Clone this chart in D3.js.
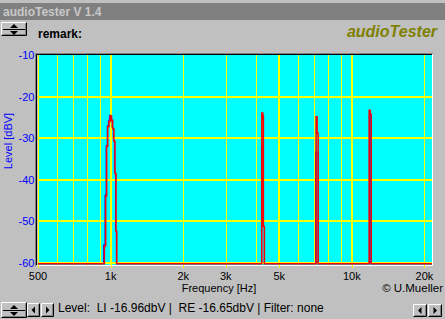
<!DOCTYPE html>
<html>
<head>
<meta charset="utf-8">
<script src="https://cdn.jsdelivr.net/npm/d3@7"></script>
<style>
  body { margin: 0; background: #c0c0c0; }
  svg { display: block; font-family: "Liberation Sans", Arial, sans-serif; }
</style>
</head>
<body>
<svg width="445" height="319"></svg>
<script>
// spectrum of the two channels, step data (freq in Hz, level in dBV)
var floorLevel = -60.3;

var rightFreq  = [500, 942, 954, 963, 973, 985, 995, 1009, 1020, 1032, 1043, 1053, 1061,
                  4235, 4276, 4300, 4340, 7112, 7180, 7250, 11800, 11917, 12030, 21500];
var rightLevel = [floorLevel, -56, -44, -32, -27.3, -26, -24.7, -25.8, -27.8, -30.8, -38.6, -52.5, floorLevel,
                  -24, -24.7, -51.3, floorLevel, -24.9, -28.8, floorLevel, -23.3, -24.3, floorLevel, floorLevel];

var leftFreq  = [500, 936, 948, 958, 968, 979, 989, 1003, 1014, 1026, 1037, 1048, 1056,
                 4221, 4290, 4340, 7080, 7250, 11830, 11990, 21500];
var leftLevel = [floorLevel, -55.7, -43.7, -31.8, -27, -25.7, -24.5, -25.5, -27.5, -30.5, -38.3, -52.2, floorLevel,
                 -32.1, -51.3, floorLevel, -33.4, floorLevel, -24, floorLevel, floorLevel];

var yTicks = [-10, -20, -30, -40, -50, -60];
var xLabelValues = [500, 1000, 2000, 3000, 5000, 10000, 20000];
var xLabelText = ["500", "1k", "2k", "3k", "5k", "10k", "20k"];
var minorGrid = [600, 700, 800, 900, 2000, 3000, 4000, 6000, 7000, 8000, 9000, 20000];
var majorGrid = [500, 1000, 5000, 10000];

var svg = d3.select("svg");

var x = d3.scaleLog().domain([500, 21500]).range([38, 432]);
var y = d3.scaleLinear().domain([-60, -10]).range([262.5, 55]);

var plotL = 38, plotT = 55, plotR = 432, plotB = 265;

// window title bar
svg.append("rect").attr("x", 0).attr("y", 0).attr("width", 445).attr("height", 319).attr("fill", "#c0c0c0");
svg.append("rect").attr("x", 0).attr("y", 3).attr("width", 445).attr("height", 17).attr("fill", "#808080");
svg.append("text").attr("x", 3).attr("y", 16).attr("fill", "#c8c8c8")
    .attr("font-weight", "bold").attr("font-size", 12).text("audioTester V 1.4");

// little windows style buttons
function button(x0, y0, w, h) {
  var g = svg.append("g");
  g.append("rect").attr("x", x0).attr("y", y0).attr("width", w).attr("height", h).attr("fill", "#c0c0c0");
  g.append("path").attr("d", "M" + (x0 + 0.5) + "," + (y0 + h - 0.5) + "V" + (y0 + 0.5) + "H" + (x0 + w - 0.5))
      .attr("stroke", "#fff").attr("fill", "none");
  g.append("path").attr("d", "M" + (x0 + 0.5) + "," + (y0 + h - 0.5) + "H" + (x0 + w - 0.5) + "V" + (y0 + 0.5))
      .attr("stroke", "#000").attr("fill", "none");
  g.append("path").attr("d", "M" + (x0 + 1.5) + "," + (y0 + h - 1.5) + "H" + (x0 + w - 1.5) + "V" + (y0 + 1.5))
      .attr("stroke", "#808080").attr("fill", "none");
  return g;
}
function spin(x0, y0, w, h) {
  var g = button(x0, y0, w, h);
  var mid = y0 + Math.round(h / 2);
  g.append("line").attr("x1", x0 + 2).attr("x2", x0 + w - 2).attr("y1", mid + 0.5).attr("y2", mid + 0.5).attr("stroke", "#000");
  var cx = x0 + w / 2;
  g.append("path").attr("d", "M" + (cx - 4) + "," + (mid - 1) + "L" + (cx + 4) + "," + (mid - 1) + "L" + cx + "," + (mid - 5) + "Z").attr("fill", "#000");
  g.append("path").attr("d", "M" + (cx - 4) + "," + (mid + 2) + "L" + (cx + 4) + "," + (mid + 2) + "L" + cx + "," + (mid + 6) + "Z").attr("fill", "#000");
}
function arrow(x0, y0, w, h, dir) {
  var g = button(x0, y0, w, h);
  var cx = x0 + w / 2, cy = y0 + h / 2;
  var d = dir < 0
    ? "M" + (cx + 1.5) + "," + (cy - 3.5) + "L" + (cx + 1.5) + "," + (cy + 3.5) + "L" + (cx - 2) + "," + cy + "Z"
    : "M" + (cx - 1.5) + "," + (cy - 3.5) + "L" + (cx - 1.5) + "," + (cy + 3.5) + "L" + (cx + 2) + "," + cy + "Z";
  g.append("path").attr("d", d).attr("fill", "#000");
}

spin(1, 22, 26, 14);
svg.append("text").attr("x", 38).attr("y", 38).attr("font-weight", "bold").attr("font-size", 12).text("remark:");
svg.append("text").attr("x", 437).attr("y", 37).attr("text-anchor", "end").attr("fill", "#808000")
    .attr("font-weight", "bold").attr("font-style", "italic").attr("font-size", 16).text("audioTester");

// plot frame (sunken)
svg.append("rect").attr("x", plotL).attr("y", plotT).attr("width", plotR - plotL).attr("height", plotB - plotT).attr("fill", "#00ffff");
svg.append("path").attr("d", "M35.5," + (plotB + 1) + "V53.5H" + (plotR + 1)).attr("stroke", "#808080").attr("fill", "none");
svg.append("path").attr("d", "M36.5," + (plotB) + "V54.5H" + (plotR)).attr("stroke", "#000").attr("fill", "none").attr("stroke-width", 1);
svg.append("path").attr("d", "M37.5," + (plotB + 0.5) + "H" + (plotR + 0.5) + "V54").attr("stroke", "#fff").attr("fill", "none");

svg.append("clipPath").attr("id", "plotClip").append("rect")
    .attr("x", plotL).attr("y", plotT).attr("width", plotR - plotL).attr("height", plotB - plotT);

var grid = svg.append("g").attr("clip-path", "url(#plotClip)").attr("shape-rendering", "crispEdges");
grid.selectAll(".hgrid").data(yTicks.filter(function (d) { return d > -60 && d < -10; })).enter().append("line")
    .attr("x1", plotL).attr("x2", plotR)
    .attr("y1", function (d) { return y(d); }).attr("y2", function (d) { return y(d); })
    .attr("stroke", "#ffff00").attr("stroke-width", 2);
grid.selectAll(".minor").data(minorGrid).enter().append("line")
    .attr("x1", function (d) { return Math.round(x(d)) + 0.5; }).attr("x2", function (d) { return Math.round(x(d)) + 0.5; })
    .attr("y1", plotT).attr("y2", plotB)
    .attr("stroke", "#ffff00").attr("stroke-width", 1);
grid.selectAll(".major").data(majorGrid).enter().append("line")
    .attr("x1", function (d) { return Math.round(x(d)); }).attr("x2", function (d) { return Math.round(x(d)); })
    .attr("y1", plotT).attr("y2", plotB)
    .attr("stroke", "#ffff00").attr("stroke-width", 2);
grid.append("line").attr("x1", plotL).attr("x2", plotR).attr("y1", Math.round(y(-60))).attr("y2", Math.round(y(-60)))
    .attr("stroke", "#ffff00").attr("stroke-width", 2);

// small ticks under the plot
svg.selectAll(".xtick").data(xLabelValues).enter().append("line")
    .attr("x1", function (d) { return Math.round(x(d)) + 0.5; }).attr("x2", function (d) { return Math.round(x(d)) + 0.5; })
    .attr("y1", plotB).attr("y2", plotB + 3)
    .attr("stroke", "#ffff00");

// traces
var line = d3.line()
    .x(function (d) { return x(d[0]); })
    .y(function (d) { return y(d[1]); })
    .curve(d3.curveStepAfter);

var traces = svg.append("g").attr("clip-path", "url(#plotClip)");
traces.append("path").datum(d3.zip(leftFreq, leftLevel)).attr("d", line)
    .attr("fill", "none").attr("stroke", "#0000ff").attr("stroke-width", 1);
traces.append("path").datum(d3.zip(rightFreq, rightLevel)).attr("d", line)
    .attr("fill", "none").attr("stroke", "#ff0000").attr("stroke-width", 1.5);

// axis labels
svg.selectAll(".ylab").data(yTicks).enter().append("text")
    .attr("x", 34.5).attr("y", function (d) { return y(d) + 4; })
    .attr("text-anchor", "end").attr("font-size", 11).attr("fill", "#0000ff")
    .text(function (d) { return d; });
svg.append("text").attr("transform", "translate(12,141) rotate(-90)")
    .attr("text-anchor", "middle").attr("font-size", 11).attr("fill", "#0000ff").text("Level [dBV]");

svg.selectAll(".xlab").data(xLabelValues).enter().append("text")
    .attr("x", function (d) { return x(d); }).attr("y", 280)
    .attr("text-anchor", "middle").attr("font-size", 11).attr("fill", "#000")
    .text(function (d, i) { return xLabelText[i]; });
svg.append("text").attr("x", 219).attr("y", 292).attr("text-anchor", "middle").attr("font-size", 11).text("Frequency [Hz]");
svg.append("text").attr("x", 443).attr("y", 292).attr("text-anchor", "end").attr("font-size", 11.5).text("\u00a9 U.Mueller");

// status bar
spin(1, 302, 26, 16);
arrow(27, 303, 13, 14, -1);
arrow(41, 303, 13, 14, 1);
arrow(413, 304, 14, 13, -1);
arrow(428, 304, 14, 13, 1);
svg.append("text").attr("x", 58).attr("y", 311.5).attr("font-size", 12).attr("xml:space", "preserve")
    .text("Level:  LI -16.96dbV |  RE -16.65dbV | Filter: none");
</script>
</body>
</html>
